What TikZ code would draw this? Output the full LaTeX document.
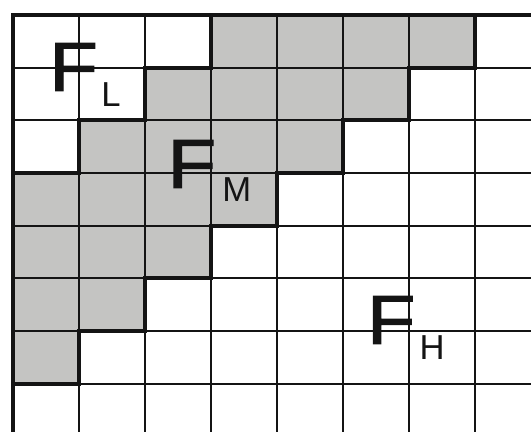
\documentclass[tikz,border=0pt]{standalone}
\usepackage{fontspec}
\setmainfont{Liberation Sans}
\newfontfamily\regionfont[FakeBold=1.6, FakeStretch=1.15]{Liberation Sans}
\usepackage{xcolor}
\usetikzlibrary{positioning}
\definecolor{cellgray}{HTML}{C4C4C2}
\definecolor{ink}{HTML}{141414}

\begin{document}
\begin{tikzpicture}[
  x=49.5pt, y=-39.5pt,
  thin line/.style={draw=ink, line width=1.3pt},
  bound/.style={draw=ink, line width=3.2pt, line join=miter, line cap=rect},
  region/.style={font=\fontsize{52}{52}\regionfont, inner sep=0pt, text=ink},
  sub/.style={font=\fontsize{26}{26}\selectfont, inner sep=0pt, text=ink}
]
\useasboundingbox (-0.197,-0.285) rectangle (7.848,7.913);
\clip (-0.197,-0.285) rectangle (7.848,7.913);
% middle band
\fill[cellgray] (3,0) -| (7,1) -| (6,2) -| (5,3) -| (4,4) -| (3,5) -| (2,6) -| (1,7) -| (0,3)
  -| (1,2) -| (2,1) -| (3,0) -- cycle;
% grid
\foreach \i in {1,...,8} {
  \draw[thin line] (\i,0) -- (\i,8.2);
  \draw[thin line] (0,\i) -- (8.2,\i);
}
% borders
\draw[bound] (0,8.2) -- (0,0) -- (8.2,0);
\draw[bound] (3,0) |- (2,1) |- (1,2) |- (0,3);
\draw[bound] (7,0) |- (6,1) |- (5,2) |- (4,3) |- (3,4) |- (2,5) |- (1,6) |- (0,7);
% labels
\node[region] (fl) at (0.917,0.987) {F};
\node[sub]    (fls) at (1.485,1.508) {L};
\node[region] (fm) at (2.71,2.83) {F};
\node[sub]    (fms) at (3.39,3.32) {M};
\node[region] (fh) at (5.73,5.79) {F};
\node[sub]    (fhs) at (6.35,6.31) {H};
\end{tikzpicture}
\end{document}
